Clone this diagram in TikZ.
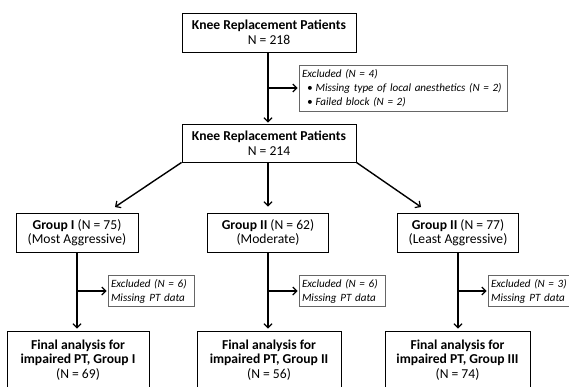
\documentclass[tikz,border=0pt]{standalone}
\usepackage{fontspec}
\setmainfont{Carlito}
\usetikzlibrary{arrows.meta}
\begin{document}
\begin{tikzpicture}[x=1pt,y=-1pt,
  mainbox/.style={draw=black,line width=0.9pt,inner sep=0pt,align=center,font=\fontsize{13.6}{14.5}\selectfont},
  exbox/.style={draw=black!60,line width=0.8pt,inner xsep=3pt,inner ysep=0pt,align=left,font=\fontsize{11.1}{14}\selectfont\itshape},
  conn/.style={line width=1.4pt,-{Straight Barb[length=4pt,width=8pt,line width=1.2pt]}}
]
\useasboundingbox (0,0) rectangle (569,386);
\fill[white] (0,0) rectangle (569,386);

\node[mainbox,minimum width=174pt,minimum height=39pt] (top) at (269,32.5)
  {\textbf{Knee Replacement Patients}\\N = 218};
\node[exbox,text width=202pt,minimum height=46pt] (ex0) at (403,88)
  {Excluded (N = 4)\\\hspace*{5pt}\textbullet\hspace{3pt}Missing type of local anesthetics (N = 2)\\\hspace*{5pt}\textbullet\hspace{3pt}Failed block (N = 2)};
\node[mainbox,minimum width=174pt,minimum height=38pt] (mid) at (269,143)
  {\textbf{Knee Replacement Patients}\\N = 214};

\node[mainbox,minimum width=122pt,minimum height=39pt] (g1) at (77,232.5)
  {\textbf{Group I} (N = 75)\\(Most Aggressive)};
\node[mainbox,minimum width=121pt,minimum height=39pt] (g2) at (268,232.5)
  {\textbf{Group II} (N = 62)\\(Moderate)};
\node[mainbox,minimum width=121pt,minimum height=39pt] (g3) at (458,232.5)
  {\textbf{Group II} (N = 77)\\(Least Aggressive)};

\node[exbox,text width=80pt,minimum height=31pt] (e1) at (151,291)
  {Excluded (N = 6)\\Missing PT data};
\node[exbox,text width=80pt,minimum height=31pt] (e2) at (342,291)
  {Excluded (N = 6)\\Missing PT data};
\node[exbox,text width=80pt,minimum height=31pt] (e3) at (531,291)
  {Excluded (N = 3)\\Missing PT data};

\node[mainbox,minimum width=142pt,minimum height=58pt] (b1) at (78,360)
  {\textbf{Final analysis for}\\\textbf{impaired PT, Group I}\\(N = 69)};
\node[mainbox,minimum width=144pt,minimum height=58pt] (b2) at (269,360)
  {\textbf{Final analysis for}\\\textbf{impaired PT, Group II}\\(N = 56)};
\node[mainbox,minimum width=145pt,minimum height=58pt] (b3) at (457.5,360)
  {\textbf{Final analysis for}\\\textbf{impaired PT, Group III}\\(N = 74)};

\coordinate (j0) at (268,88);
\coordinate (t1) at (115,207);
\coordinate (t3) at (421,207);
\coordinate (j1) at (77,291);
\coordinate (j2) at (268,291);
\coordinate (j3) at (457.5,291);

\draw[conn,shorten >=1pt] (top.south -| j0) -- (mid.north -| j0);
\draw[conn,shorten >=1pt] (j0) -- (ex0.west);
\draw[conn] (mid.south west) -- (t1);
\draw[conn,shorten >=6pt] (mid.south -| g2) -- (g2.north);
\draw[conn] (mid.south east) -- (t3);
\draw[conn,shorten >=2pt] (g1.south) -- (b1.north -| g1);
\draw[conn,shorten >=2pt] (g2.south) -- (b2.north -| g2);
\draw[conn,shorten >=2pt] (g3.south) -- (b3.north -| g3);
\draw[conn,shorten >=1pt] (j1) -- (e1.west);
\draw[conn,shorten >=1pt] (j2) -- (e2.west);
\draw[conn,shorten >=1pt] (j3) -- (e3.west);
\end{tikzpicture}
\end{document}
